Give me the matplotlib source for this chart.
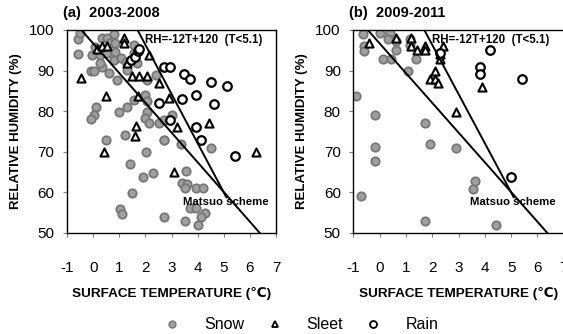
import matplotlib
matplotlib.use("Agg")
import matplotlib.pyplot as plt
from matplotlib.lines import Line2D

plt.rcParams['font.family'] = ['Liberation Sans', 'DejaVu Sans']
plt.rcParams['axes.unicode_minus'] = False

# (a) 2003-2008
snow_a_t = [-0.59, -0.49, -0.59, 0.09, -0.04, -0.1, 0.05, 0.34, 0.53, 0.79, 0.66, 0.85,
            0.28, 0.53, 0.85, 0.79, 1.05, 0.34, 0.6, 0.92, 0.28, 1.24, 1.3, 1.56, 1.56,
            1.69, 2.07, 2.39, 0.11, 0.02, -0.1, 0.98, 1.3, 1.56, 2.0, 2.07, 2.07, 2.0,
            2.13, 2.52, 2.71, 3.03, 2.71, 3.35, 0.51, 1.21, 2.72, 2.01, 4.52, 1.42, 1.91,
            2.3, 1.5, 1.02, 1.12, 2.72, 3.57, 3.41, 3.6, 3.5, 3.92, 4.21, 3.7, 3.92, 4.3,
            4.14, 3.5, 4.01]
snow_a_rh = [97.9, 99.2, 94.1, 95.9, 93.9, 90.0, 90.0, 98.0, 98.0, 98.9, 96.7, 96.7,
             93.9, 94.3, 94.7, 92.6, 93.0, 91.0, 89.3, 87.7, 91.8, 92.2, 90.2, 96.3, 94.3,
             91.8, 87.7, 88.9, 81.1, 79.1, 78.0, 79.9, 81.1, 82.8, 84.0, 82.4, 79.9, 78.3,
             77.0, 77.0, 77.9, 79.1, 72.9, 72.0, 72.8, 74.1, 72.8, 70.0, 70.9, 67.0, 63.8,
             64.9, 59.9, 55.9, 54.8, 53.9, 65.2, 62.3, 62.1, 61.1, 61.1, 61.1, 56.2, 56.2,
             54.9, 53.9, 53.0, 51.9]
sleet_a_t = [-0.48, 0.16, 0.35, 0.55, 0.48, 0.41, 1.18, 1.18, 1.31, 1.5, 1.76, 2.08,
             2.12, 2.53, 1.7, 2.91, 1.63, 1.62, 3.22, 4.43, 6.22, 3.09]
sleet_a_rh = [88.3, 95.2, 96.1, 96.1, 83.7, 69.9, 98.1, 96.9, 91.9, 88.7, 88.7, 88.7,
              93.8, 87.0, 83.7, 83.3, 76.4, 73.9, 76.2, 77.0, 69.9, 65.0]
rain_a_t = [1.46, 1.59, 1.72, 1.76, 2.71, 2.94, 3.48, 3.71, 4.52, 5.14, 4.63, 3.92,
            3.41, 2.52, 2.94, 3.92, 4.12, 5.43]
rain_a_rh = [92.5, 93.4, 94.9, 95.3, 91.0, 91.0, 89.2, 88.0, 87.1, 86.1, 81.8, 83.9,
             83.0, 82.0, 77.9, 76.1, 73.0, 69.0]

# (b) 2009-2011
snow_b_t = [-0.63, -0.6, -0.6, 0.0, 0.38, 0.32, 0.64, 0.64, 0.13, 0.44, 1.14, 1.14,
            1.4, 1.08, -0.89, -0.19, 1.74, -0.18, -0.18, 1.92, 2.9, -0.71, 1.72, 3.54,
            3.63, 4.42]
snow_b_rh = [98.9, 96.1, 94.8, 99.2, 99.2, 97.7, 97.3, 95.1, 92.9, 92.9, 97.7, 96.2,
             92.9, 89.9, 83.7, 79.0, 77.0, 71.1, 67.8, 72.0, 70.9, 59.0, 52.9, 60.9,
             62.8, 51.9]
sleet_b_t = [-0.4, 0.62, 1.19, 1.19, 1.41, 1.72, 1.72, 2.42, 2.29, 2.29, 2.1, 1.92,
             2.1, 2.21, 2.9, 3.9]
sleet_b_rh = [96.9, 98.0, 98.0, 96.1, 95.1, 96.1, 95.1, 96.1, 94.0, 92.8, 89.9, 87.9,
              87.9, 86.9, 79.9, 85.9]
rain_b_t = [2.29, 4.2, 3.82, 3.82, 5.4, 5.0]
rain_b_rh = [94.3, 95.1, 91.0, 89.2, 88.0, 63.9]

# threshold lines
matsuo_t = [-0.45, 6.38]
matsuo_rh = [100, 50]
rh_line_t = [1.7, 5.1]
rh_line_rh = [100, 58.8]

xticks = [-1, 0, 1, 2, 3, 4, 5, 6, 7]
yticks = [50, 60, 70, 80, 90, 100]

fig = plt.figure(figsize=(5.63, 3.34), dpi=100)
ax_a = fig.add_axes([67 / 563, 1 - 233 / 334, 209 / 563, 203 / 334])
ax_b = fig.add_axes([353.3 / 563, 1 - 233 / 334, 210.4 / 563, 203 / 334])

panels = [
    (ax_a, '(a)  2003-2008', snow_a_t, snow_a_rh, sleet_a_t, sleet_a_rh, rain_a_t, rain_a_rh),
    (ax_b, '(b)  2009-2011', snow_b_t, snow_b_rh, sleet_b_t, sleet_b_rh, rain_b_t, rain_b_rh),
]

for ax, title, st, srh, lt, lrh, rt, rrh in panels:
    ax.scatter(st, srh, s=36, marker='o', facecolor='#a0a0a0', edgecolor='#767676',
               linewidth=1.3, zorder=2)
    ax.scatter(lt, lrh, s=34, marker='^', facecolor='white', edgecolor='black',
               linewidth=1.5, zorder=3)
    ax.scatter(rt, rrh, s=38, marker='o', facecolor='white', edgecolor='black',
               linewidth=1.6, zorder=3)
    ax.plot(matsuo_t, matsuo_rh, color='black', lw=1.4, zorder=4)
    ax.plot(rh_line_t, rh_line_rh, color='black', lw=1.4, zorder=4)

    ax.set_xlim(-1, 7)
    ax.set_ylim(50, 100)
    ax.set_xticks(xticks)
    ax.set_yticks(yticks)
    ax.tick_params(axis='x', direction='out', length=3, pad=17, labelsize=11,
                   color='#808080')
    ax.tick_params(axis='y', direction='out', length=3, pad=6, labelsize=11,
                   color='#808080')
    for sp in ax.spines.values():
        sp.set_linewidth(1.0)
    ax.set_xlabel('SURFACE TEMPERATURE (\u2103)', fontsize=9.7, fontweight='bold',
                  labelpad=9)
    ax.set_ylabel('RELATIVE HUMIDITY (%)', fontsize=9.5, fontweight='bold', labelpad=5)
    ax.text(-0.02, 1.05, title, transform=ax.transAxes, fontsize=10.5, fontweight='bold',
            ha='left', va='bottom')
    ax.text(2.0, 97.5, 'RH=-12T+120  (T<5.1)', fontsize=8.3, fontweight='bold',
            ha='left', va='center', zorder=5)
    ax.text(3.45, 57.6, 'Matsuo scheme', fontsize=8.2, fontweight='bold',
            ha='left', va='center', zorder=5)

handles = [
    Line2D([], [], ls='none', marker='o', ms=5, mfc='#a0a0a0', mec='#767676', mew=1.0),
    Line2D([], [], ls='none', marker='^', ms=5, mfc='white', mec='black', mew=1.3),
    Line2D([], [], ls='none', marker='o', ms=5, mfc='white', mec='black', mew=1.3),
]
fig.legend(handles, ['Snow', 'Sleet', 'Rain'], loc='center', bbox_to_anchor=(0.528, 0.027),
           ncol=3, frameon=False, fontsize=11.5, handletextpad=1.0, columnspacing=0.9)

fig.savefig('out.png', dpi=100)
